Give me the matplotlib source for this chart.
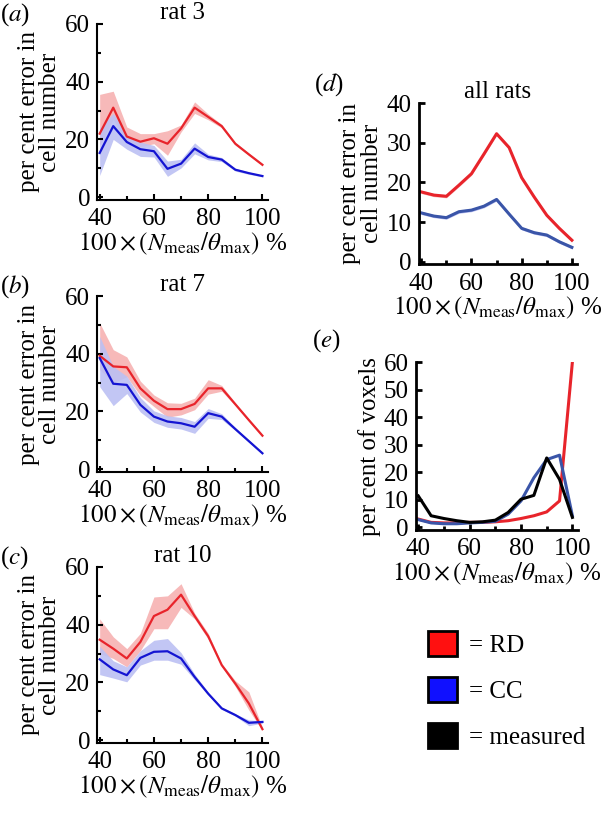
import numpy as np
import matplotlib
matplotlib.use('Agg')
import matplotlib.pyplot as plt
from matplotlib.patches import Patch
from matplotlib.ticker import MultipleLocator

plt.rcParams['font.family'] = ['Liberation Serif', 'DejaVu Serif']
plt.rcParams['mathtext.fontset'] = 'stix'
plt.rcParams['font.size'] = 18

#%% data
pct = [40, 45, 50, 55, 60, 65, 70, 75, 80, 85, 90, 95, 100]

# rat 3
rd3 = [22, 31, 21, 19.2, 20.4, 18.5, 23.8, 31, 27.8, 24.6, 18.5, 14.8, 11.2]
rd3_lo = [18, 27, 19, 17.5, 18.5, 14.5, 22.6, 29, 26.8, 24, 18, 14.4, 10.8]
rd3_hi = [35.6, 36.7, 24.3, 22, 22, 23, 25, 33, 28.8, 25.2, 19, 15.2, 11.6]
cc3 = [15.3, 24.6, 19.1, 16.6, 15.9, 9.8, 11.6, 16.8, 13.9, 13, 9.5, 8.3, 7.3]
cc3_lo = [7.5, 20, 16.6, 14.1, 13.9, 7.2, 10.1, 15, 12.9, 12.3, 9, 7.9, 7]
cc3_hi = [24, 29, 21.6, 19.1, 17.9, 12.5, 13.1, 18.8, 14.9, 13.7, 10, 8.7, 7.6]

# rat 7
rd7 = [39.3, 35.6, 35.3, 28, 23.7, 20.8, 20.8, 22.6, 28, 28, 22.5, 17, 11.6]
rd7_lo = [34.5, 30, 32, 25.5, 21.7, 18, 18.8, 20.6, 26, 27, 22, 16.6, 11.2]
rd7_hi = [50.7, 41.4, 38.9, 30.5, 25.7, 23, 22.8, 24.6, 31, 29, 23, 17.4, 12]
cc7 = [38.5, 29.6, 29.2, 22.3, 18.2, 16.5, 15.9, 14.7, 19.4, 18.2, 13.9, 9.7, 5.5]
cc7_lo = [28.6, 22, 26.2, 19.8, 16.2, 14.5, 13.9, 12.4, 17.6, 17.2, 13.4, 9.3, 5.2]
cc7_hi = [46, 35.6, 32.2, 24.8, 20.2, 18.5, 17.9, 16.5, 21, 19.2, 14.4, 10.1, 5.8]

# rat 10
rd10 = [34.8, 31.7, 28.3, 34, 43, 45.2, 50.4, 43, 36, 26, 19.6, 12.7, 3.8]
rd10_lo = [30, 28.3, 25.4, 31, 38.6, 38.6, 46, 42, 35, 25.5, 18.6, 10.4, 3.3]
rd10_hi = [42, 35.8, 31.7, 37, 49.6, 50, 54.2, 44, 37, 26.5, 20.6, 16.7, 4.3]
cc10 = [28, 24.5, 22.5, 28.5, 30.6, 30.8, 28.3, 21.9, 16.1, 11, 8.7, 6, 6.3]
cc10_lo = [22.7, 21.5, 20.2, 26, 27.7, 27.7, 26.3, 20.9, 15.6, 10.6, 8.3, 5, 5.9]
cc10_hi = [32.5, 27.5, 25.4, 31, 34.6, 35.2, 30.3, 22.9, 16.6, 11.4, 9.1, 7, 6.7]

# all rats
rd_all = [17.6, 16.8, 16.5, 19.3, 22.2, 27.2, 32.3, 28.8, 21.2, 16.3, 11.7, 8.4, 5.4]
cc_all = [12.3, 11.5, 11.1, 12.6, 13, 14, 15.7, 12, 8.4, 7.3, 6.7, 5, 3.6]

# per cent of voxels
rd_vox = [3, 1.8, 1.6, 1.6, 1.8, 1.8, 2, 2.4, 3.2, 4.2, 5.6, 9.6, 60]
cc_vox = [2.8, 1.6, 1.3, 1.3, 1.6, 1.8, 2.2, 4.8, 9.6, 18, 24.6, 26.2, 4.2]
meas_vox = [11.4, 4.2, 3.2, 2.4, 1.8, 2, 2.6, 5.4, 10.2, 11.6, 25.2, 17.4, 3.6]

red = '#e8242b'
blue = '#1414d2'
blue2 = '#3a55a8'
xlab = r'$100\times(N_{\mathrm{meas}}/\theta_{\mathrm{max}})$ %'

def style_ax(ax, ytop, ystep, yminor=None, lw=1.5):
    for s in ['top', 'right']:
        ax.spines[s].set_visible(False)
    for s in ['left', 'bottom']:
        ax.spines[s].set_linewidth(lw)
    ax.set_xlim(39, 102)
    ax.set_ylim(-ytop / 60.0, ytop)
    ax.xaxis.set_major_locator(MultipleLocator(20))
    ax.xaxis.set_minor_locator(MultipleLocator(10))
    ax.yaxis.set_major_locator(MultipleLocator(ystep))
    if yminor:
        ax.yaxis.set_minor_locator(MultipleLocator(yminor))
    ax.tick_params(which='both', direction='in', width=lw, labelsize=18)
    ax.tick_params(axis='x', pad=6)
    ax.tick_params(axis='y', pad=5)
    ax.tick_params(which='major', length=4)
    ax.tick_params(which='minor', length=3)
    ax.set_xlabel(xlab, fontsize=18, labelpad=0)

#%% figure
fig = plt.figure(figsize=(6.06, 8.13), dpi=100)

rats = [('a', 'rat 3', rd3, rd3_lo, rd3_hi, cc3, cc3_lo, cc3_hi, 0.754),
        ('b', 'rat 7', rd7, rd7_lo, rd7_hi, cc7, cc7_lo, cc7_hi, 0.4194),
        ('c', 'rat 10', rd10, rd10_lo, rd10_hi, cc10, cc10_lo, cc10_hi, 0.0861)]

for lab, ttl, rd, rlo, rhi, cc, clo, chi, bot in rats:
    ax = fig.add_axes([0.160, bot, 0.282, 0.2165])
    ax.fill_between(pct, rlo, rhi, color='#f7b9b9', lw=0)
    ax.fill_between(pct, clo, chi, color='#bcc0f3', lw=0, alpha=0.9)
    ax.plot(pct, rd, color=red, lw=1.6)
    ax.plot(pct, cc, color=blue, lw=1.6)
    style_ax(ax, 60, 20, 10)
    ax.set_ylabel('per cent error in\ncell number', fontsize=18, linespacing=0.95, labelpad=3)
    ax.set_title(ttl, fontsize=18, pad=2)
    ax.text(-0.57, 1.02, '(' + r'$\it{' + lab + '}$' + ')', transform=ax.transAxes, fontsize=18)

# all rats
ax = fig.add_axes([0.691, 0.675, 0.261, 0.198])
ax.fill_between(pct, np.array(rd_all) - 0.4, np.array(rd_all) + 0.4, color='#f7b9b9', lw=0)
ax.fill_between(pct, np.array(cc_all) - 0.4, np.array(cc_all) + 0.4, color='#bcc0f3', lw=0)
ax.plot(pct, rd_all, color=red, lw=2.2)
ax.plot(pct, cc_all, color=blue2, lw=2.2)
style_ax(ax, 40, 10, lw=2)
ax.set_ylabel('per cent error in\ncell number', fontsize=18, linespacing=0.95, labelpad=3)
ax.set_title('all rats', fontsize=18, pad=2)
ax.text(-0.66, 1.08, r'($\it{d}$)', transform=ax.transAxes, fontsize=18)

# voxels
ax = fig.add_axes([0.686, 0.348, 0.267, 0.2066])
ax.plot(pct, rd_vox, color=red, lw=2.2)
ax.plot(pct, cc_vox, color=blue2, lw=2.2)
ax.plot(pct, meas_vox, color='black', lw=2.2)
style_ax(ax, 60, 10, lw=2)
ax.set_ylabel('per cent of voxels', fontsize=18, labelpad=2)
ax.text(-0.64, 1.09, r'($\it{e}$)', transform=ax.transAxes, fontsize=18)

handles = [Patch(facecolor='#ff1010', edgecolor='black', lw=2),
           Patch(facecolor='#1010ff', edgecolor='black', lw=2),
           Patch(facecolor='black', edgecolor='black', lw=2)]
fig.legend(handles, ['= RD', '= CC', '= measured'], loc='upper left',
           bbox_to_anchor=(0.69, 0.236), frameon=False, fontsize=18,
           handlelength=1.15, handleheight=1.15, labelspacing=0.8, handletextpad=0.5,
           borderaxespad=0)

fig.savefig('out.png', dpi=100)
